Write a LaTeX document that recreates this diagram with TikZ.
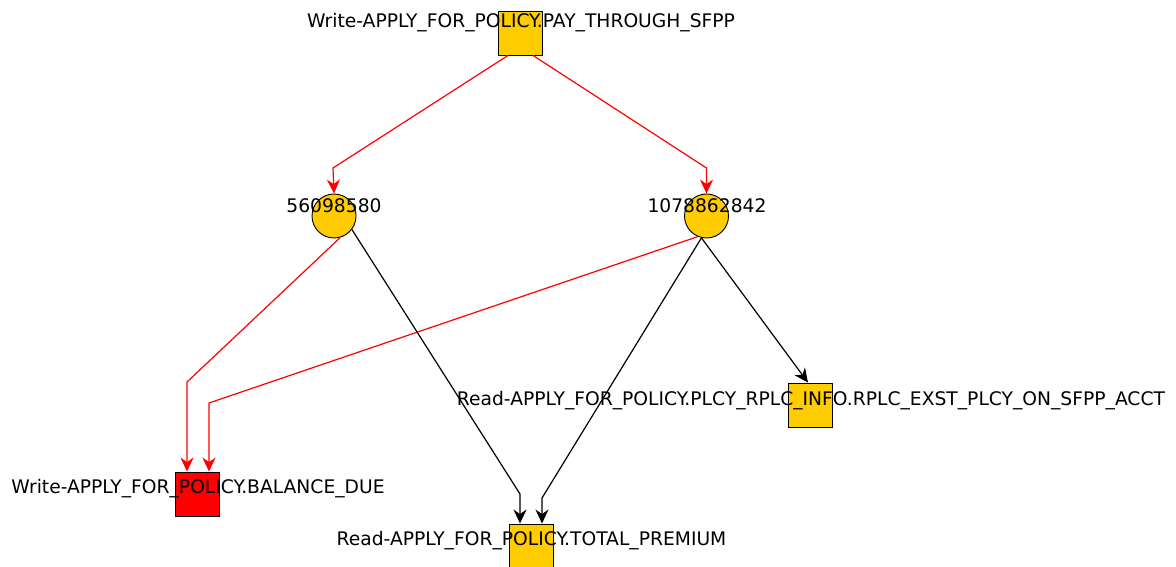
\documentclass[tikz,border=0pt]{standalone}
\usepackage{fontspec}
\setmainfont{DejaVu Sans}
\usetikzlibrary{arrows.meta,calc}
\definecolor{gold}{HTML}{FFCC00}
\tikzset{
  sq/.style={draw=black, fill=gold, minimum size=44pt, inner sep=0pt, line width=0.9pt},
  rsq/.style={sq, fill=red},
  circ/.style={circle, draw=black, fill=gold, minimum size=44pt, inner sep=0pt, line width=0.9pt},
  lbl/.style={font=\fontsize{18.7}{20}\selectfont, inner sep=0pt, text=black, anchor=base},
  tip/.style={-{Stealth[length=14pt,width=13pt,inset=4.5pt]}},
  redge/.style={draw=red, line width=1.2pt, tip},
  bedge/.style={draw=black, line width=1.2pt, tip}
}
\begin{document}
\begin{tikzpicture}[x=1pt,y=-1pt]
\useasboundingbox (0,0) rectangle (1176,567);
\clip (0,0) rectangle (1176,567);
% nodes
\node[sq] (T) at (520.5,33) {};
\node[circ] (c1) at (334,216) {};
\node[circ] (c2) at (706.5,216) {};
\node[rsq] (B) at (197,494) {};
\node[sq] (P) at (531,546) {};
\node[sq] (R) at (810,405) {};
% labels
\node[lbl] (lT) at (521,28) {Write-APPLY\_FOR\_POLICY.PAY\_THROUGH\_SFPP};
\node[lbl] (l1) at (334,212) {56098580};
\node[lbl] (l2) at (707,212) {1078862842};
\node[lbl] (lB) at (198,493) {Write-APPLY\_FOR\_POLICY.BALANCE\_DUE};
\node[lbl] (lP) at (531.5,545) {Read-APPLY\_FOR\_POLICY.TOTAL\_PREMIUM};
\node[lbl] (lR) at (811,405.5) {Read-APPLY\_FOR\_POLICY.PLCY\_RPLC\_INFO.RPLC\_EXST\_PLCY\_ON\_SFPP\_ACCT};
% edges
\draw[redge] ($(T.south)+(-12.5,0)$) -- (333,168) -- (c1.north);
\draw[redge] ($(T.south)+(12.5,0)$) -- (706.5,168) -- (c2.north);
\draw[redge] (c1.-74) -- (187,382) -- ($(B.north)+(-10,0)$);
\draw[redge] (c2.-113) -- (209,403) -- ($(B.north)+(12,0)$);
\draw[bedge] (c1.-37) -- (520,494) -- ($(P.north)+(-11,0)$);
\draw[bedge] (c2.-103) -- (542,498) -- ($(P.north)+(11,0)$);
\draw[bedge] (c2.-103) -- ($(R.north)+(-2,0)$);
\end{tikzpicture}
\end{document}
